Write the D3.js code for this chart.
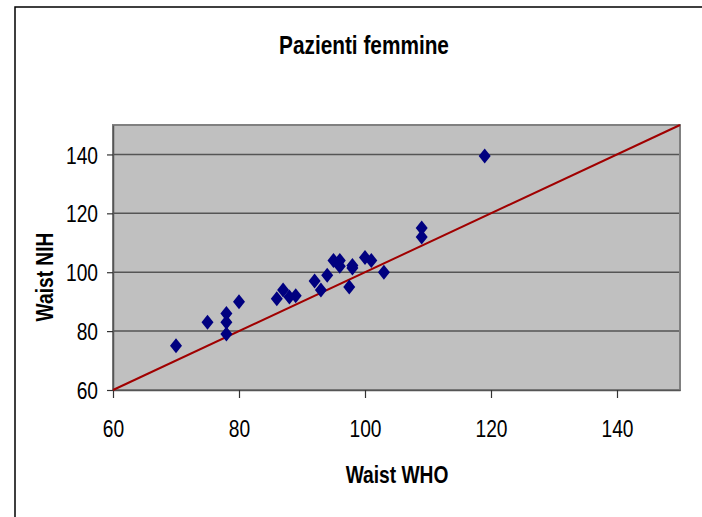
<!DOCTYPE html>
<html>
<head>
<meta charset="utf-8">
<script src="https://cdn.jsdelivr.net/npm/d3@7"></script>
<style>
html,body{margin:0;padding:0;background:#fff;}
svg{display:block;}
</style>
</head>
<body>
<script>
const title = "Pazienti femmine";
const xLabel = "Waist WHO";
const yLabel = "Waist NIH";
const xTicks = [60, 80, 100, 120, 140];
const yTicks = [60, 80, 100, 120, 140];
const gridValues = [80, 100, 120, 140];
const waistWHO = [70, 75, 78, 78, 78, 80, 86, 87, 88, 89, 92, 93, 94, 95, 96, 96, 97.5, 98, 98, 100, 101, 103, 109, 109, 119];
const waistNIH = [75, 83, 86, 83, 79, 90, 91, 94, 91.6, 92, 97, 94, 99, 104, 104, 102, 95, 102.3, 101.4, 105, 104, 100, 115, 112, 139.5];
const refLine = [60, 150];

const W = 702, H = 517;
const svg = d3.select("body").append("svg").attr("width", W).attr("height", H);
const font = "'Liberation Sans', Arial, sans-serif";
const sx = 0.8;

// outer chart frame
svg.append("rect").attr("x", 15).attr("y", 7).attr("width", 760).attr("height", 560)
  .attr("fill", "#fff").attr("stroke", "#000").attr("stroke-width", 1.5);

const x = d3.scaleLinear().domain([60, 150]).range([113, 680]);
const y = d3.scaleLinear().domain([60, 150]).range([390, 125]);

// plot background
svg.append("rect").attr("x", x(60)).attr("y", y(150))
  .attr("width", x(150) - x(60)).attr("height", y(60) - y(150))
  .attr("fill", "#C0C0C0");

// gridlines
svg.append("g").selectAll("line").data(gridValues).join("line")
  .attr("x1", x(60)).attr("x2", x(150))
  .attr("y1", d => y(d)).attr("y2", d => y(d))
  .attr("stroke", "#555").attr("stroke-width", 1.5);

// plot border
svg.append("rect").attr("x", x(60)).attr("y", y(150))
  .attr("width", x(150) - x(60)).attr("height", y(60) - y(150))
  .attr("fill", "none").attr("stroke", "#808080").attr("stroke-width", 2);

// axes
const gx = svg.append("g").attr("transform", `translate(0,${y(60)})`)
  .call(d3.axisBottom(x).tickValues(xTicks).tickSize(8).tickSizeOuter(0).tickFormat(d3.format("d")));
const gy = svg.append("g").attr("transform", `translate(${x(60)},0)`)
  .call(d3.axisLeft(y).tickValues(yTicks).tickSize(6).tickSizeOuter(0).tickFormat(d3.format("d")));
[gx, gy].forEach(g => {
  g.select(".domain").attr("stroke", "#555").attr("stroke-width", 1.5);
  g.selectAll(".tick line").attr("stroke", "#333").attr("stroke-width", 1.2);
});
gx.selectAll(".tick text")
  .attr("font-family", font).attr("font-size", 24).attr("fill", "#000")
  .attr("y", 0).attr("dy", 0).attr("text-anchor", "middle")
  .attr("transform", `translate(0,47) scale(${sx},1)`);
gy.selectAll(".tick text")
  .attr("font-family", font).attr("font-size", 24).attr("fill", "#000")
  .attr("x", 0).attr("dy", "0.36em").attr("text-anchor", "end")
  .attr("transform", `translate(-15,0) scale(${sx},1)`);

// identity line
svg.append("line")
  .attr("x1", x(refLine[0])).attr("y1", y(refLine[0]))
  .attr("x2", x(refLine[1])).attr("y2", y(refLine[1]))
  .attr("stroke", "#A00000").attr("stroke-width", 2);

// points
const dw = 6, dh = 7.5;
svg.append("g").selectAll("path").data(waistWHO.map((d, i) => [d, waistNIH[i]])).join("path")
  .attr("d", `M0,${-dh}L${dw},0L0,${dh}L${-dw},0Z`)
  .attr("transform", d => `translate(${x(d[0])},${y(d[1])})`)
  .attr("fill", "#000080");

// titles
svg.append("text").attr("font-family", font).attr("font-weight", "bold").attr("font-size", 26)
  .attr("text-anchor", "middle").attr("transform", `translate(364,54) scale(${sx},1)`).text(title);
svg.append("text").attr("font-family", font).attr("font-weight", "bold").attr("font-size", 24)
  .attr("text-anchor", "middle").attr("transform", `translate(397,483) scale(${sx},1)`).text(xLabel);
svg.append("text").attr("font-family", font).attr("font-weight", "bold").attr("font-size", 24)
  .attr("text-anchor", "middle").attr("transform", `translate(53,277) rotate(-90) scale(${sx},1)`).text(yLabel);
</script>
</body>
</html>
